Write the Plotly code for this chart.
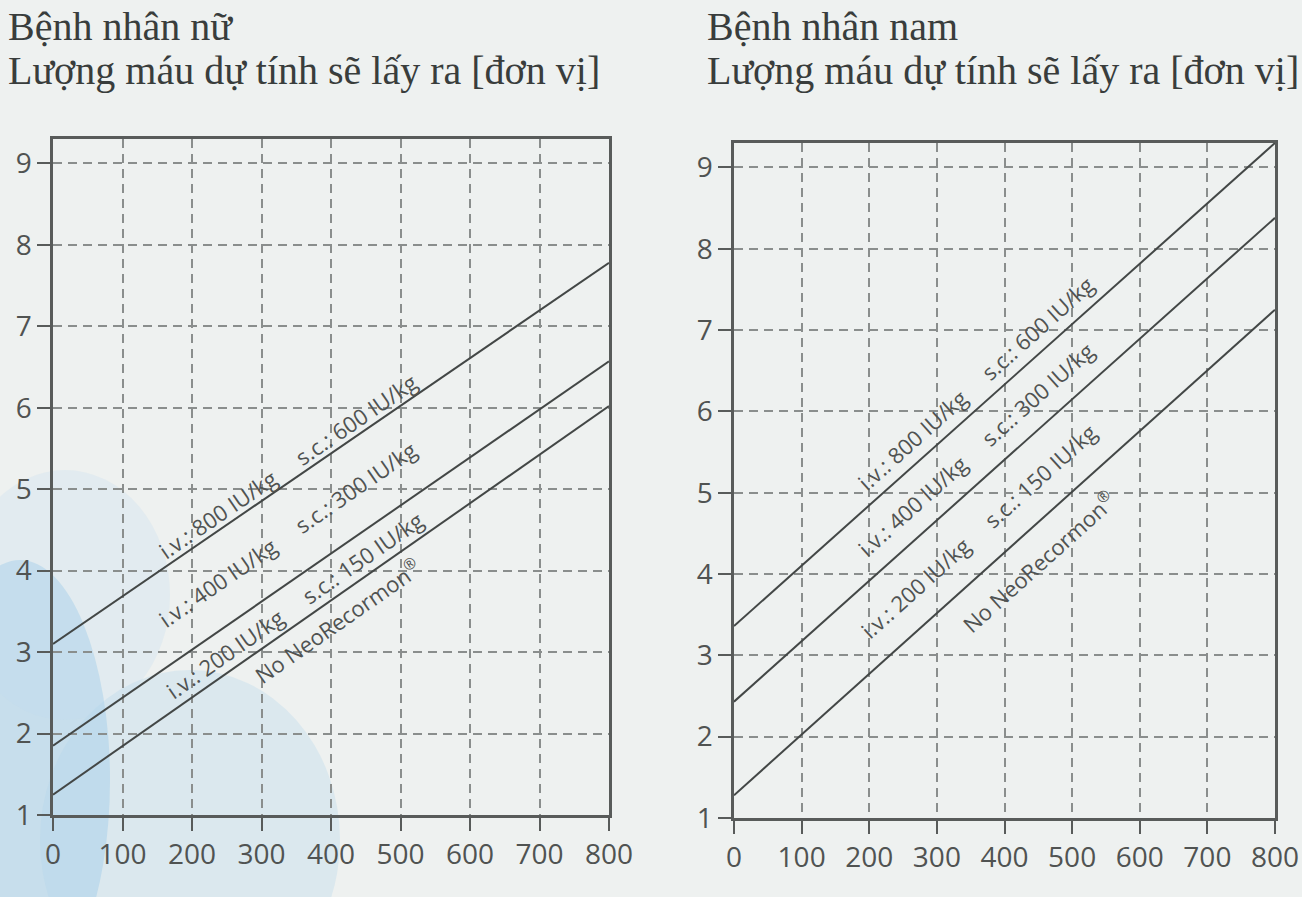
import plotly.graph_objects as go
import math

# ---------------- data ----------------
x_vals = [0, 800]
x_ticks = [0, 100, 200, 300, 400, 500, 600, 700, 800]
y_ticks = [1, 2, 3, 4, 5, 6, 7, 8, 9]

female_high = [3.10, 7.78]   # i.v. 800 / s.c. 600
female_mid = [1.85, 6.57]    # i.v. 400 / s.c. 300
female_low = [1.25, 6.02]    # i.v. 200 / s.c. 150

male_high = [3.36, 9.30]
male_mid = [2.43, 8.38]
male_low = [1.28, 7.25]

label_texts = [
    "i.v.: 800 IU/kg\u00a0\u00a0\u00a0\u00a0 s.c.: 600 IU/kg",
    "i.v.: 400 IU/kg\u00a0\u00a0\u00a0\u00a0 s.c.: 300 IU/kg",
    "i.v.: 200 IU/kg\u00a0\u00a0\u00a0\u00a0 s.c.: 150 IU/kg",
    "No NeoRecormon<sup>®</sup>",
]
# label centre positions (data coords) for each chart
female_label_x = [337, 337, 347, 409]
female_label_y = [5.29, 4.45, 3.58, 3.39]
male_label_x = [357, 357, 361, 450]
male_label_y = [6.35, 5.54, 4.53, 4.16]

titles = [("Bệnh nhân nữ", "Lượng máu dự tính sẽ lấy ra [đơn vị]"),
          ("Bệnh nhân nam", "Lượng máu dự tính sẽ lấy ra [đơn vị]")]

# ---------------- layout geometry ----------------
W, H = 1302, 897
y_range = [1, 9.3]
x_range = [0, 800]
# pixel boxes of the two plots
left_box = dict(x0=53, x1=609, ytop=139, ybot=815)
right_box = dict(x0=734, x1=1275, ytop=143, ybot=818)

LINE_C = "#434746"
AXIS_C = "#585b5a"
GRID_C = "#8a8e8d"
TEXT_C = "#505352"

fig = go.Figure()

def add_chart(idx, box, series, lab_x, lab_y):
    xa = "x" if idx == 1 else "x2"
    ya = "y" if idx == 1 else "y2"
    for s in series:
        fig.add_trace(go.Scatter(x=x_vals, y=s, mode="lines",
                                 line=dict(color=LINE_C, width=2),
                                 xaxis=xa, yaxis=ya, showlegend=False,
                                 hoverinfo="skip"))
    pw = box["x1"] - box["x0"]
    ph = box["ybot"] - box["ytop"]
    sx = pw / (x_range[1] - x_range[0])
    sy = ph / (y_range[1] - y_range[0])
    for i, txt in enumerate(label_texts):
        s = series[min(i, 2)]
        slope = (s[1] - s[0]) / (x_vals[1] - x_vals[0])
        ang = math.degrees(math.atan(slope * sy / sx))
        fig.add_annotation(x=lab_x[i], y=lab_y[i], xref=xa, yref=ya,
                           text=txt, showarrow=False, textangle=-ang,
                           font=dict(family="Open Sans", size=22, color=TEXT_C))

add_chart(1, left_box, [female_high, female_mid, female_low], female_label_x, female_label_y)
add_chart(2, right_box, [male_high, male_mid, male_low], male_label_x, male_label_y)

def axis_common():
    return dict(showline=True, linewidth=2.5, linecolor=AXIS_C, mirror=True,
                ticks="outside", ticklen=13, tickwidth=2, tickcolor=AXIS_C,
                showgrid=True, gridcolor=GRID_C, gridwidth=1.5, griddash="9px,6px",
                zeroline=False, automargin=False, ticklabeloverflow="allow",
                tickfont=dict(family="Open Sans", size=28, color=TEXT_C))

def xdom(b):
    return [b["x0"] / W, b["x1"] / W]

def ydom(b):
    return [1 - b["ybot"] / H, 1 - b["ytop"] / H]

fig.update_layout(
    width=W, height=H,
    margin=dict(l=0, r=0, t=0, b=0, autoexpand=False),
    paper_bgcolor="#eef1f0",
    plot_bgcolor="rgba(0,0,0,0)",
    xaxis=dict(domain=xdom(left_box), range=x_range, tickvals=x_ticks,
               anchor="y", **axis_common()),
    yaxis=dict(domain=ydom(left_box), range=y_range, tickvals=y_ticks,
               anchor="x", **axis_common()),
    xaxis2=dict(domain=xdom(right_box), range=x_range, tickvals=x_ticks,
                anchor="y2", **axis_common()),
    yaxis2=dict(domain=ydom(right_box), range=y_range, tickvals=y_ticks,
                anchor="x2", **axis_common()),
)

# titles (two lines each)
for (t1, t2), px in zip(titles, [6, 705]):
    fig.add_annotation(text=t1, xref="paper", yref="paper", x=px / W, y=1 - 26 / H,
                       xanchor="left", yanchor="middle", showarrow=False,
                       font=dict(family="Liberation Serif", size=40, color="#393d3c"))
    fig.add_annotation(text=t2, xref="paper", yref="paper", x=px / W, y=1 - 71 / H,
                       xanchor="left", yanchor="middle", showarrow=False,
                       font=dict(family="Liberation Serif", size=40, color="#393d3c"))

# decorative pale-blue tint of the printed page (bottom-left)
blobs = [(-70, 560, 110, 1000, "rgba(150,200,230,0.45)"),
         (-40, 470, 170, 720, "rgba(190,220,238,0.25)"),
         (40, 670, 340, 1010, "rgba(175,212,236,0.30)")]
for x0, y0, x1, y1, col in blobs:
    fig.add_shape(type="circle", xref="paper", yref="paper", layer="below",
                  x0=x0 / W, x1=x1 / W, y0=1 - y1 / H, y1=1 - y0 / H,
                  fillcolor=col, line=dict(width=0))

fig.write_html("out.html", config={"displayModeBar": False},
               post_script="document.body.style.margin='0px';")
